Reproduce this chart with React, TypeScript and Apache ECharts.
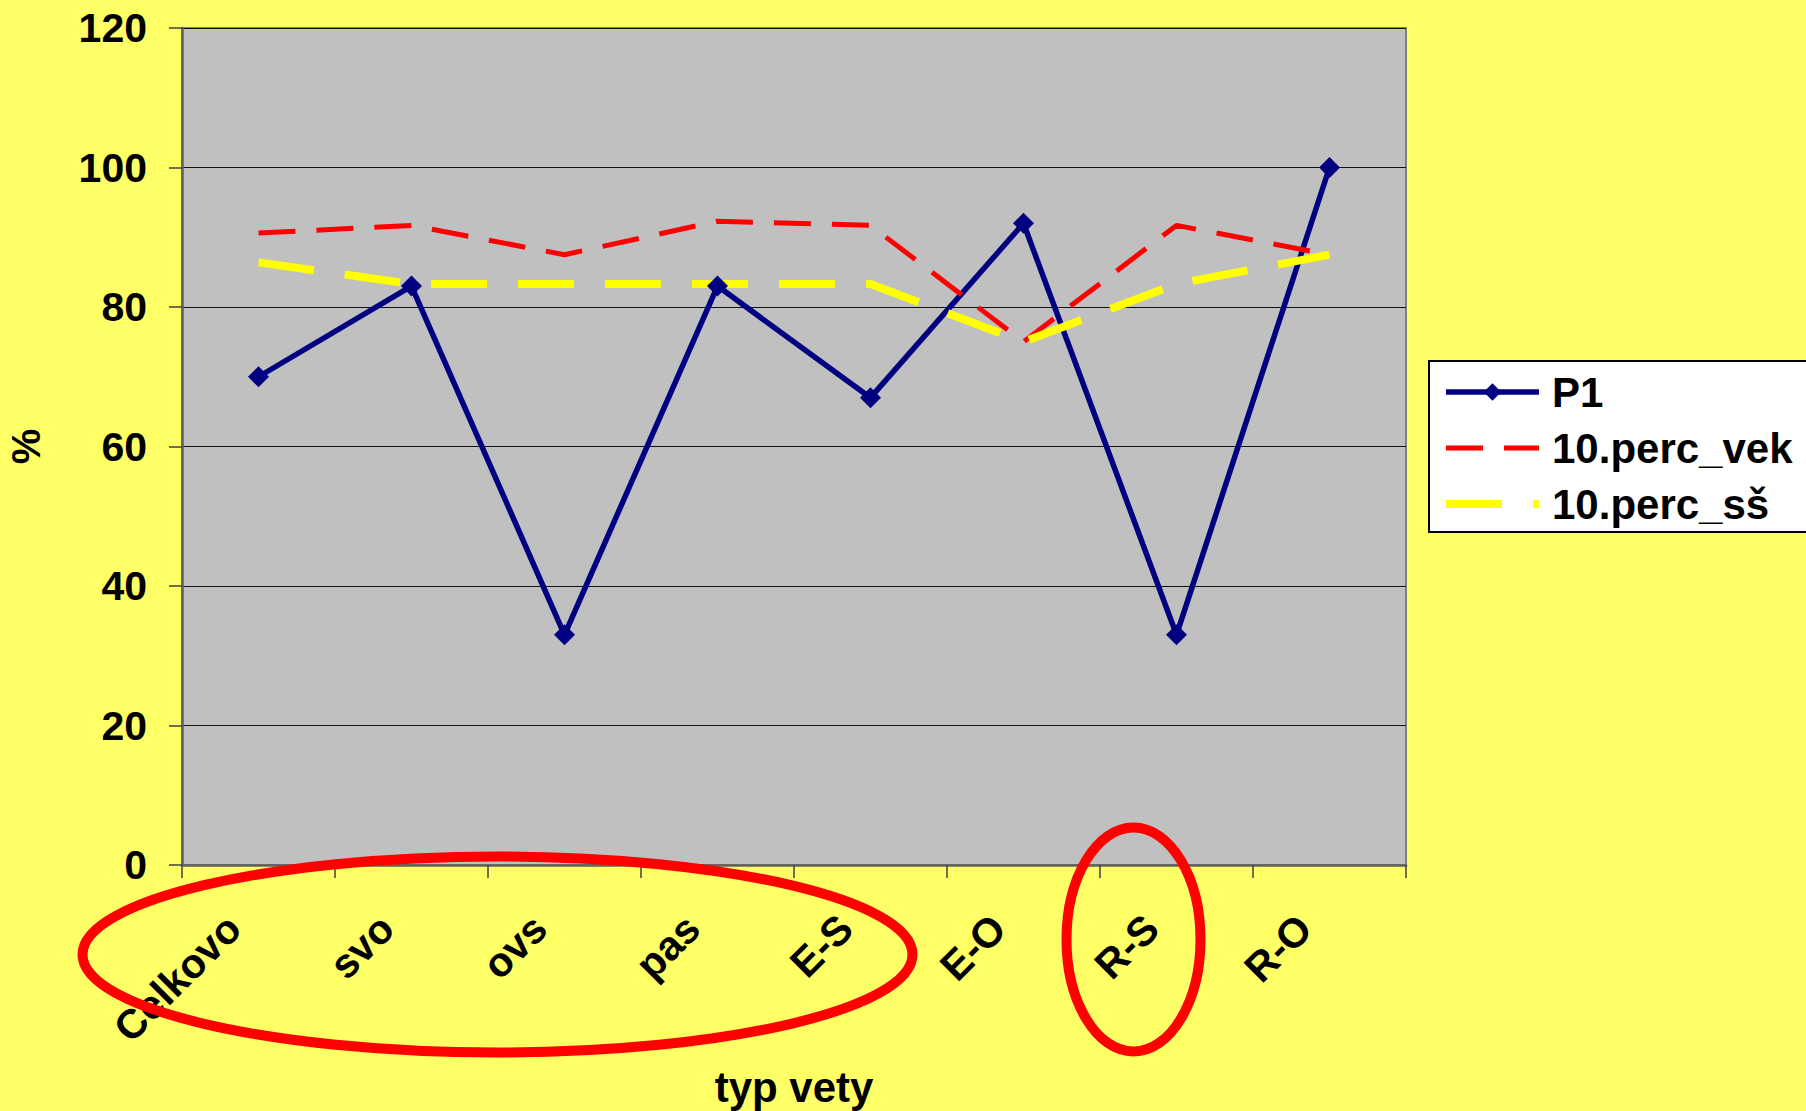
import React, { useEffect, useRef } from "react";
import * as echarts from "echarts";

const categories = ["Celkovo", "svo", "ovs", "pas", "E-S", "E-O", "R-S", "R-O"];
const p1Values = [70, 83, 33, 83, 67, 92, 33, 100];
const vekValues = [90.6, 91.7, 87.5, 92.3, 91.7, 75, 91.7, 87.5];
const ssValues = [86.4, 83.3, 83.3, 83.3, 83.3, 75, 83.3, 87.5];
const seriesNames = ["P1", "10.perc_vek", "10.perc_sš"];
const yTicks = { min: 0, max: 120, interval: 20 };

const FONT = '"Liberation Sans", Arial, sans-serif';
const HIDDEN = "rgba(0,0,0,0)";

export default function App() {
  const ref = useRef<HTMLDivElement>(null);
  useEffect(() => {
    if (!ref.current) return;
    const chart = echarts.init(ref.current, null, { renderer: "svg" });
    chart.setOption({
      animation: false,
      backgroundColor: "#FFFF66",
      textStyle: { fontFamily: FONT },
      grid: {
        left: 182,
        right: 400,
        top: 28,
        bottom: 246,
        containLabel: false,
        outerBoundsMode: "none",
        show: true,
        backgroundColor: "#C0C0C0",
        borderColor: "#808080",
        borderWidth: 2,
      },
      legend: {
        orient: "vertical",
        left: 1429,
        top: 361,
        padding: [8, 30, 5, 13],
        itemGap: 10,
        itemWidth: 93,
        itemHeight: 22,
        backgroundColor: "#FFFFFF",
        borderColor: "#000000",
        borderWidth: 2,
        borderRadius: 0,
        lineStyle: { width: "inherit" },
        data: [
          { name: seriesNames[0] },
          { name: seriesNames[1], itemStyle: { color: HIDDEN, borderColor: HIDDEN } },
          { name: seriesNames[2], itemStyle: { color: HIDDEN, borderColor: HIDDEN } },
        ],
        textStyle: {
          fontFamily: FONT,
          fontSize: 42,
          fontWeight: "bold",
          color: "#000",
          lineHeight: 46,
          padding: [0, 0, 0, 8],
        },
      },
      xAxis: {
        type: "category",
        data: categories,
        boundaryGap: true,
        name: "typ vety",
        nameLocation: "middle",
        nameGap: 200,
        nameTextStyle: {
          fontFamily: FONT,
          fontSize: 42,
          fontWeight: "bold",
          color: "#000",
          lineHeight: 44,
        },
        axisLine: { show: true, lineStyle: { color: "#606060", width: 2.5 } },
        axisTick: { show: true, length: 13, lineStyle: { color: "#404040", width: 1.5 } },
        axisLabel: {
          rotate: 45,
          interval: 0,
          margin: 32,
          padding: [0, 35, 0, 0],
          fontFamily: FONT,
          fontSize: 41,
          fontWeight: "bold",
          color: "#000",
        },
        splitLine: { show: false },
      },
      yAxis: {
        type: "value",
        min: yTicks.min,
        max: yTicks.max,
        interval: yTicks.interval,
        name: "%",
        nameLocation: "middle",
        nameRotate: 90,
        nameGap: 136,
        nameTextStyle: { fontFamily: FONT, fontSize: 40, fontWeight: "bold", color: "#000" },
        axisLine: { show: true, lineStyle: { color: "#606060", width: 2.5 } },
        axisTick: { show: true, length: 13, lineStyle: { color: "#404040", width: 1.5 } },
        axisLabel: {
          margin: 35,
          fontFamily: FONT,
          fontSize: 41,
          fontWeight: "bold",
          color: "#000",
        },
        splitLine: { show: true, lineStyle: { color: "#111", width: 1.2 } },
      },
      series: [
        {
          name: seriesNames[0],
          type: "line",
          data: p1Values,
          symbol: "diamond",
          symbolSize: 21,
          itemStyle: { color: "#000080" },
          lineStyle: { color: "#000080", width: 5.5 },
        },
        {
          name: seriesNames[1],
          type: "line",
          data: vekValues,
          symbol: "none",
          itemStyle: { color: "#FF0000" },
          lineStyle: { color: "#FF0000", width: 5, type: [37, 21] },
        },
        {
          name: seriesNames[2],
          type: "line",
          data: ssValues,
          symbol: "none",
          itemStyle: { color: "#FFFF00" },
          lineStyle: { color: "#FFFF00", width: 8, type: [56, 31] },
        },
      ],
      graphic: [
        {
          type: "ellipse",
          z: 100,
          shape: { cx: 497.5, cy: 954.5, rx: 415, ry: 98 },
          style: { fill: "none", stroke: "#FF0000", lineWidth: 10 },
        },
        {
          type: "ellipse",
          z: 100,
          shape: { cx: 1133.5, cy: 939.5, rx: 67, ry: 112 },
          style: { fill: "none", stroke: "#FF0000", lineWidth: 10 },
        },
      ],
    });
    return () => chart.dispose();
  }, []);
  return (
    <div
      ref={ref}
      style={{ position: "fixed", left: 0, top: 0, width: 1806, height: 1111 }}
    />
  );
}
